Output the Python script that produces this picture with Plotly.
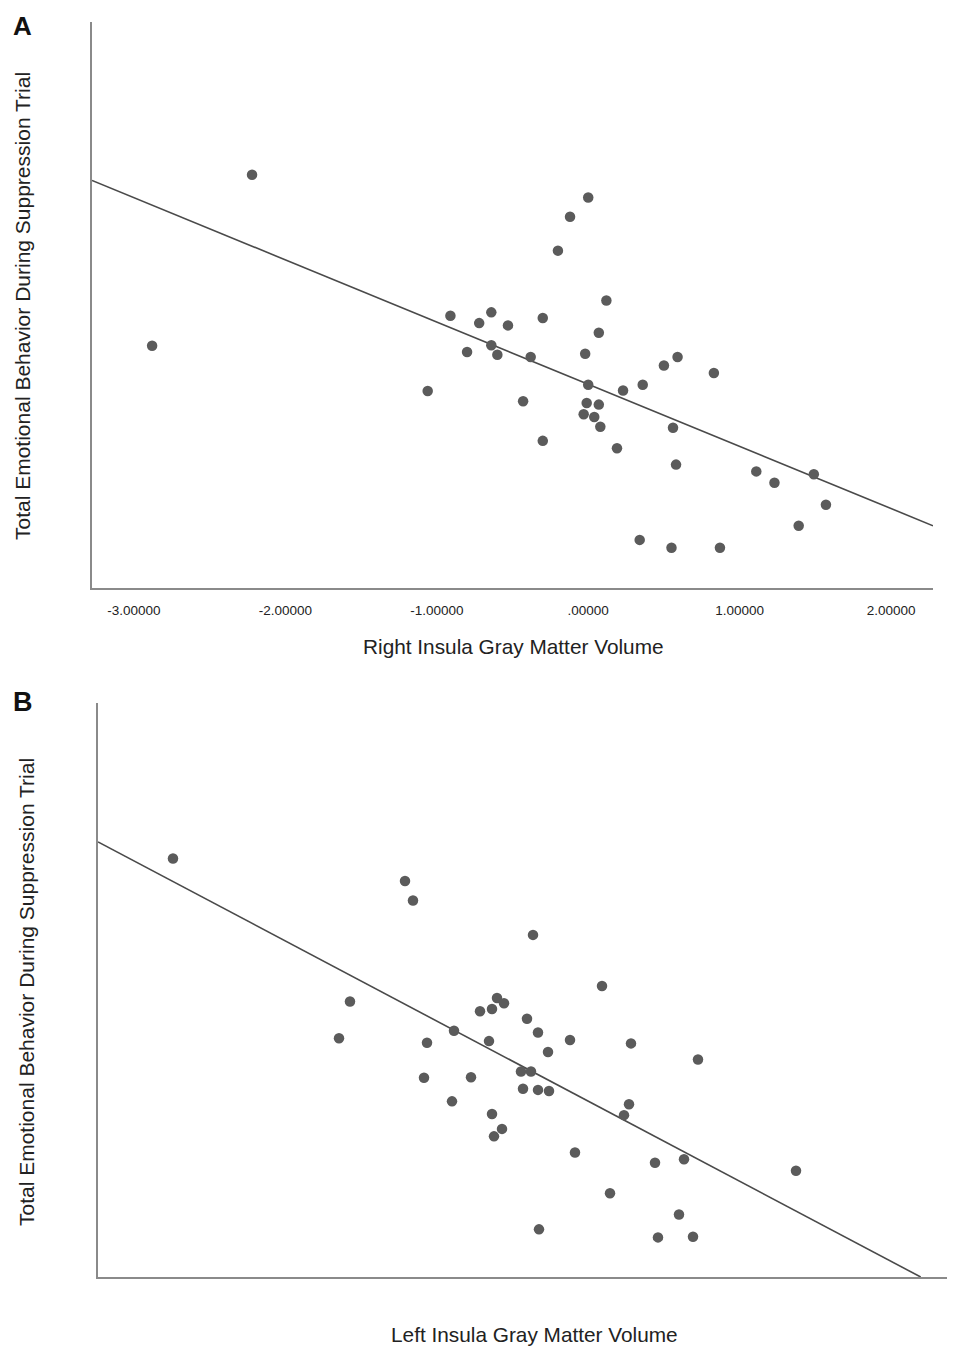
import plotly.graph_objects as go

# ---------------- Panel A: Right insula ----------------
a_x = [0.00, -0.12, -0.20, 0.12, -0.91, -0.64, -0.72, -0.53, -0.30, 0.07,
       -0.80, -0.64, -0.60, -0.38, -0.02, 0.59, 0.50, 0.83, -1.06, 0.00,
       0.23, 0.36, -0.43, -0.01, 0.07, -0.03, 0.04, 0.08, 0.56, -0.30,
       0.19, 0.58, 1.11, 1.23, 1.49, 1.57, 1.39, 0.34, 0.55, 0.87,
       -2.22, -2.88]
a_y = [6.90, 6.56, 5.96, 5.08, 4.81, 4.87, 4.68, 4.64, 4.77, 4.51,
       4.17, 4.29, 4.12, 4.08, 4.14, 4.08, 3.93, 3.80, 3.48, 3.59,
       3.49, 3.59, 3.30, 3.27, 3.24, 3.07, 3.02, 2.85, 2.83, 2.60,
       2.47, 2.18, 2.06, 1.86, 2.01, 1.47, 1.10, 0.85, 0.71, 0.71,
       7.30, 4.28]
a_fit_x = [-3.277, 2.277]
a_fit_y = [7.20, 1.10]
a_tickvals = [-3, -2, -1, 0, 1, 2]
a_ticktext = ["-3.00000", "-2.00000", "-1.00000", ".00000", "1.00000", "2.00000"]

# ---------------- Panel B: Left insula ----------------
b_x = [0.75, 3.07, 3.15, 2.52, 2.41, 3.29, 3.26, 3.56, 3.73, 3.54,
       4.35, 5.04, 3.99, 4.06, 3.82, 3.94, 4.29, 3.91, 4.40, 4.72,
       5.33, 4.50, 6.00, 4.23, 4.33, 4.25, 4.40, 4.51, 5.31, 5.26,
       3.94, 4.04, 3.96, 4.77, 5.57, 5.86, 6.98, 5.12, 5.81, 4.41,
       5.60, 5.95]
b_y = [7.29, 6.90, 6.56, 4.80, 4.16, 4.08, 3.47, 4.29, 3.48, 3.06,
       5.96, 5.07, 4.86, 4.77, 4.63, 4.67, 4.50, 4.11, 4.26, 4.13,
       4.07, 3.92, 3.79, 3.58, 3.58, 3.28, 3.26, 3.24, 3.01, 2.82,
       2.84, 2.58, 2.45, 2.17, 1.99, 2.05, 1.85, 1.46, 1.09, 0.83,
       0.69, 0.70]
b_fit_x = [0.0, 8.227]
b_fit_y = [7.58, 0.0]

y_title = "Total Emotional Behavior During Suppression Trial"
a_x_title = "Right Insula Gray Matter Volume"
b_x_title = "Left Insula Gray Matter Volume"

# the page body has an 8px margin; the figure is sized to fill the rest
OFF = 8
W, H = 955 - OFF, 1346 - OFF
FONT = "Liberation Sans, Arial, sans-serif"
DOT = "#5b5b5b"
LINE = "#4a4a4a"
AXIS = "#8a8a8a"

fig = go.Figure()
fig.add_trace(go.Scatter(x=a_fit_x, y=a_fit_y, mode="lines",
                         line=dict(color=LINE, width=1.6),
                         xaxis="x", yaxis="y", showlegend=False))
fig.add_trace(go.Scatter(x=a_x, y=a_y, mode="markers",
                         marker=dict(color=DOT, size=10.5, line=dict(width=0)),
                         xaxis="x", yaxis="y", showlegend=False))
fig.add_trace(go.Scatter(x=b_fit_x, y=b_fit_y, mode="lines",
                         line=dict(color=LINE, width=1.6),
                         xaxis="x2", yaxis="y2", showlegend=False))
fig.add_trace(go.Scatter(x=b_x, y=b_y, mode="markers",
                         marker=dict(color=DOT, size=10.5, line=dict(width=0)),
                         xaxis="x2", yaxis="y2", showlegend=False))

def px_x(p):
    return min(1.0, (p - OFF) / W)

def px_y(p):
    return 1 - (p - OFF) / H

axis_common = dict(showgrid=False, zeroline=False, showline=True,
                   linecolor=AXIS, linewidth=1.6, mirror=False, fixedrange=True)

fig.update_layout(
    width=W, height=H, autosize=False,
    margin=dict(l=0, r=0, t=0, b=0),
    paper_bgcolor="white", plot_bgcolor="white",
    font=dict(family=FONT, color="#222222"),
    xaxis=dict(domain=[px_x(92), px_x(933)], range=[-3.277, 2.277],
               tickvals=a_tickvals, ticktext=a_ticktext, ticks="",
               ticklabelstandoff=9,
               tickfont=dict(size=13.5, color="#222222", family=FONT),
               anchor="y", **axis_common),
    yaxis=dict(domain=[px_y(588), px_y(22)], range=[0, 10],
               showticklabels=False, ticks="", anchor="x", **axis_common),
    xaxis2=dict(domain=[px_x(98), 1.0], range=[0, 8.57],
                showticklabels=False, ticks="", anchor="y2", **axis_common),
    yaxis2=dict(domain=[px_y(1277), px_y(703)], range=[0, 10],
                showticklabels=False, ticks="", anchor="x2", **axis_common),
)

ann = []
ann.append(dict(text="<b>A</b>", x=px_x(22), y=px_y(9), xref="paper", yref="paper",
                showarrow=False, font=dict(size=26, color="#111111", family=FONT),
                xanchor="center", yanchor="top"))
ann.append(dict(text="<b>B</b>", x=px_x(23), y=px_y(702), xref="paper", yref="paper",
                showarrow=False, font=dict(size=27, color="#111111", family=FONT),
                xanchor="center", yanchor="middle"))
ann.append(dict(text=a_x_title, x=px_x(513.5), y=px_y(646), xref="paper", yref="paper",
                showarrow=False, font=dict(size=20.8, color="#222222", family=FONT),
                xanchor="center", yanchor="middle"))
ann.append(dict(text=b_x_title, x=px_x(534), y=px_y(1334), xref="paper", yref="paper",
                showarrow=False, font=dict(size=20.8, color="#222222", family=FONT),
                xanchor="center", yanchor="middle"))
ann.append(dict(text=y_title, x=px_x(22), y=px_y(306), xref="paper", yref="paper",
                showarrow=False, textangle=-90,
                font=dict(size=21, color="#222222", family=FONT),
                xanchor="center", yanchor="middle"))
ann.append(dict(text=y_title, x=px_x(26), y=px_y(992), xref="paper", yref="paper",
                showarrow=False, textangle=-90,
                font=dict(size=21, color="#222222", family=FONT),
                xanchor="center", yanchor="middle"))
fig.update_layout(annotations=ann)

fig.write_html("out.html")
